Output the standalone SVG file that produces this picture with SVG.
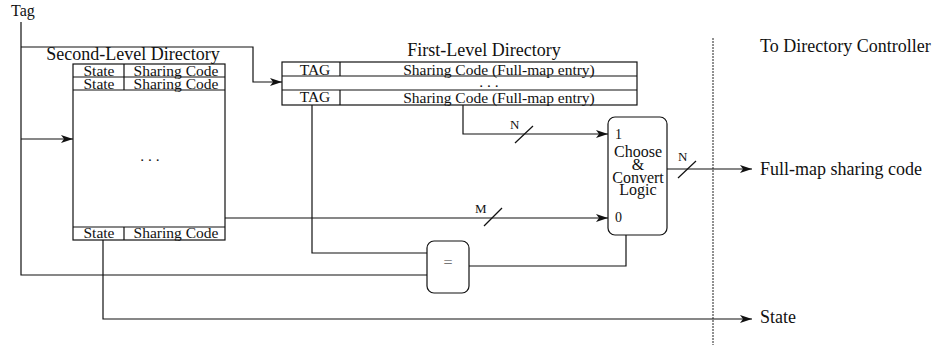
<svg xmlns="http://www.w3.org/2000/svg" width="938" height="347" viewBox="0 0 938 347">
  <style>
    text { font-family: "Liberation Serif", "Times New Roman", serif; fill: #111; }
    .title { font-size: 18px; text-anchor: middle; }
    .label { font-size: 18px; }
    .cell { font-size: 15.5px; text-anchor: middle; }
    .logic { font-size: 16px; text-anchor: middle; }
    .small { font-size: 13px; }
    .box { fill: #fff; stroke: #111; stroke-width: 1.2; }
    .grid { fill: none; stroke: #111; stroke-width: 1.2; }
    .wire { fill: none; stroke: #111; stroke-width: 1.2; }
    .tick { stroke: #111; stroke-width: 1.2; }
    .boundary { stroke: #222; stroke-width: 1; stroke-dasharray: 2 1; }
  </style>
  <defs>
    <marker id="arrow" markerUnits="userSpaceOnUse" markerWidth="13" markerHeight="8" refX="12" refY="4" orient="auto">
      <path d="M0,0 L12,4 L0,8 L3,4 Z" fill="#111"/>
    </marker>
  </defs>

  <!-- boundary towards the directory controller -->
  <line class="boundary" x1="713" y1="38" x2="713" y2="345"/>

  <!-- connectors -->
  <g id="connectors">
    <path class="wire" d="M21,22 V275 H427"/>
    <path class="wire" d="M21,47 H253 V82 H282" marker-end="url(#arrow)"/>
    <path class="wire" d="M21,139 H73" marker-end="url(#arrow)"/>
    <path class="wire" d="M312,105 V253 H427"/>
    <path class="wire" d="M463,105 V134 H608" marker-end="url(#arrow)"/>
    <path class="wire" d="M225,218 H608" marker-end="url(#arrow)"/>
    <path class="wire" d="M469,266 H626 V235"/>
    <path class="wire" d="M667,169 H752" stroke="#555" marker-end="url(#arrow)"/>
    <path class="wire" d="M103,240 V319 H752" marker-end="url(#arrow)"/>
    <!-- bus width ticks -->
    <line class="tick" x1="515" y1="143" x2="533" y2="126"/>
    <text class="small" x="510" y="129">N</text>
    <line class="tick" x1="484" y1="226" x2="502" y2="208"/>
    <text class="small" x="475" y="213">M</text>
    <line class="tick" x1="678" y1="178" x2="696" y2="161"/>
    <text class="small" x="678" y="161">N</text>
  </g>

  <!-- input tag -->
  <g id="tag">
    <text x="11" y="16" style="font-size:16px">Tag</text>
  </g>

  <!-- second-level directory -->
  <g id="second-level">
    <text class="title" x="133" y="60">Second-Level Directory</text>
    <rect class="box" x="73" y="64" width="152" height="176"/>
    <path class="grid" d="M73,77 H225 M73,90 H225 M73,227 H225 M124,64 V90 M124,227 V240"/>
    <text class="cell" x="99" y="75.5">State</text>
    <text class="cell" x="176" y="75.5">Sharing Code</text>
    <text class="cell" x="99" y="88.5">State</text>
    <text class="cell" x="176" y="88.5">Sharing Code</text>
    <text class="cell" x="150" y="161">. . .</text>
    <text class="cell" x="99" y="238">State</text>
    <text class="cell" x="176" y="238">Sharing Code</text>
  </g>

  <!-- first-level directory -->
  <g id="first-level">
    <text class="title" x="484" y="56">First-Level Directory</text>
    <rect class="box" x="282" y="62" width="355" height="43"/>
    <path class="grid" d="M282,76 H637 M282,90 H637 M340,62 V76 M340,90 V105"/>
    <text class="cell" x="315" y="74.5">TAG</text>
    <text class="cell" x="499" y="74.5">Sharing Code (Full-map entry)</text>
    <text class="cell" x="489" y="87">. . .</text>
    <text class="cell" x="315" y="101.5">TAG</text>
    <text class="cell" x="499" y="103">Sharing Code (Full-map entry)</text>
  </g>

  <!-- choose & convert logic -->
  <g id="choose-logic">
    <rect class="box" x="608" y="117" width="59" height="118" rx="7" ry="7"/>
    <text class="small" x="615" y="139" style="font-size:14px">1</text>
    <text class="small" x="615" y="222" style="font-size:14px">0</text>
    <text class="logic" x="638" y="157">Choose</text>
    <text class="logic" x="638" y="169.5">&amp;</text>
    <text class="logic" x="638" y="183">Convert</text>
    <text class="logic" x="638" y="195">Logic</text>
  </g>

  <!-- tag comparator -->
  <g id="comparator">
    <rect class="box" x="427" y="241" width="42" height="52" rx="7" ry="7" stroke="#333"/>
    <text x="448" y="268" style="font-size:16px;text-anchor:middle;fill:#777">=</text>
  </g>

  <!-- outputs -->
  <g id="outputs">
    <text class="label" x="760" y="52">To Directory Controller</text>
    <text class="label" x="760" y="175">Full-map sharing code</text>
    <text class="label" x="760" y="323">State</text>
  </g>
</svg>
